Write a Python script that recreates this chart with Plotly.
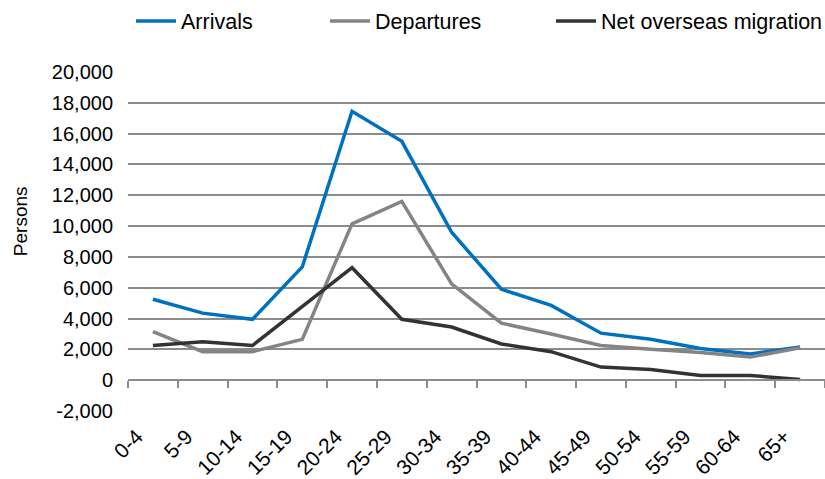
import plotly.graph_objects as go

# Age groups and overseas migration counts (persons)
age_groups = ["0-4", "5-9", "10-14", "15-19", "20-24", "25-29", "30-34",
              "35-39", "40-44", "45-49", "50-54", "55-59", "60-64", "65+"]
arrivals = [5250, 4350, 3950, 7350, 17450, 15500, 9600,
            5900, 4850, 3050, 2650, 2050, 1700, 2150]
departures = [3150, 1850, 1850, 2650, 10150, 11600, 6250,
              3700, 3000, 2250, 2000, 1800, 1500, 2100]
net_migration = [2250, 2500, 2250, 4800, 7300, 3950, 3450,
                 2350, 1850, 850, 700, 300, 300, 50]

y_tick_values = list(range(-2000, 20001, 2000))
y_tick_labels = ["-2,000", "0", "2,000", "4,000", "6,000", "8,000", "10,000",
                 "12,000", "14,000", "16,000", "18,000", "20,000"]

FONT = "Liberation Sans, Arial, sans-serif"
GRID = "#8c8c8c"
PLOT_LEFT, PLOT_WIDTH = 128, 697

series = [
    ("Arrivals", arrivals, "#0070c0", "legend", 131),
    ("Departures", departures, "#848484", "legend2", 325),
    ("Net overseas migration", net_migration, "#333333", "legend3", 551),
]

fig = go.Figure()
legends = {}
for name, values, color, legend_id, left_px in series:
    fig.add_trace(go.Scatter(x=age_groups, y=values, name=name, mode="lines",
                             line=dict(color=color, width=3.5), legend=legend_id))
    legends[legend_id] = dict(
        orientation="h", x=(left_px - PLOT_LEFT) / PLOT_WIDTH, xanchor="left",
        y=1 - 21 / 479, yanchor="middle", yref="container",
        font=dict(size=21.5), itemwidth=40, bgcolor="rgba(0,0,0,0)",
    )

y_min, y_max = -2000, 20000
zero_pos = (0 - y_min) / (y_max - y_min)

fig.update_layout(
    width=825, height=479,
    margin=dict(l=PLOT_LEFT, r=0, t=72, b=68, autoexpand=False),
    paper_bgcolor="white", plot_bgcolor="white",
    font=dict(family=FONT, size=20, color="black"),
    showlegend=True,
    **legends,
    xaxis=dict(
        type="category", anchor="free", position=zero_pos,
        showline=True, linecolor=GRID, linewidth=2,
        ticks="outside", ticklen=7, tickwidth=2, tickcolor=GRID,
        tickson="boundaries", showgrid=False, tickangle=-45,
        ticklabelstandoff=35, ticklabelshift=-16, range=[-0.5, 13.5],
        tickfont=dict(size=21),
    ),
    yaxis=dict(
        range=[y_min, y_max], tickvals=y_tick_values, ticktext=y_tick_labels,
        showgrid=True, gridcolor=GRID, gridwidth=2, zeroline=False,
        showline=False, ticks="", ticklabelstandoff=14,
        tickfont=dict(size=20),
    ),
)

fig.add_annotation(text="Persons", textangle=-90, showarrow=False,
                   xref="paper", yref="paper", x=-0.155, y=0.56,
                   xanchor="center", yanchor="middle",
                   font=dict(size=19, family=FONT))

fig.write_html("out.html")
